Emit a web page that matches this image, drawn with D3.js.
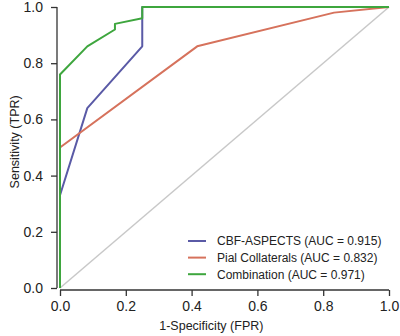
<!DOCTYPE html>
<html>
<head>
<meta charset="utf-8">
<script src="https://cdn.jsdelivr.net/npm/d3@7"></script>
<style>
  body { margin: 0; background: #fff; }
  svg { display: block; font-family: "Liberation Sans", Arial, sans-serif; }
</style>
</head>
<body>
<div id="container"></div>
<script>
let w = 400;
let h = 336;

// ROC data
let seriesNames = ['CBF-ASPECTS (AUC = 0.915)', 'Pial Collaterals (AUC = 0.832)', 'Combination (AUC = 0.971)'];
let seriesColors = ['#5a5aa6', '#d6725c', '#3ea63e'];

let cbfFpr = [0, 0, 0.083, 0.25, 0.25, 1];
let cbfTpr = [0, 0.33, 0.64, 0.86, 1, 1];

let pialFpr = [0, 0, 0.417, 0.833, 1];
let pialTpr = [0, 0.5, 0.86, 0.98, 1];

let combFpr = [0, 0, 0.083, 0.167, 0.167, 0.25, 0.25, 1];
let combTpr = [0, 0.76, 0.86, 0.92, 0.94, 0.96, 1, 1];

let ticks = [0, 0.2, 0.4, 0.6, 0.8, 1.0];

let series = [
  { fpr: cbfFpr, tpr: cbfTpr },
  { fpr: pialFpr, tpr: pialTpr },
  { fpr: combFpr, tpr: combTpr }
];

let viz = d3.select('#container')
  .append('svg')
  .attr('width', w)
  .attr('height', h);

let xScale = d3.scaleLinear().domain([0, 1]).range([60, 389]);
let yScale = d3.scaleLinear().domain([0, 1]).range([288, 7]);

// AXES (R style, detached)
let yAxis = d3.axisLeft(yScale).tickValues(ticks).tickFormat(d3.format('.1f')).tickSize(6).tickPadding(8);
let yAxisGroup = viz.append('g').attr('transform', 'translate(57,0)').call(yAxis);

let xAxis = d3.axisBottom(xScale).tickValues(ticks).tickFormat(d3.format('.1f')).tickSize(6).tickPadding(5);
let xAxisGroup = viz.append('g').attr('transform', 'translate(0,290)').call(xAxis);

[xAxisGroup, yAxisGroup].forEach(g => {
  g.select('.domain').remove();
  g.selectAll('line').attr('stroke', '#333').attr('stroke-width', 1.3);
  g.selectAll('text').attr('font-size', 14).attr('fill', '#222')
    .style('font-family', '"Liberation Sans", Arial, sans-serif');
});

// axis lines
viz.append('line')
  .attr('x1', 57).attr('x2', 57)
  .attr('y1', yScale(1)).attr('y2', yScale(0))
  .attr('stroke', '#333').attr('stroke-width', 1.3);
viz.append('line')
  .attr('x1', xScale(0)).attr('x2', xScale(1))
  .attr('y1', 290).attr('y2', 290)
  .attr('stroke', '#333').attr('stroke-width', 1.3);

// axis titles
viz.append('text')
  .attr('x', xScale(0.46)).attr('y', 330)
  .attr('text-anchor', 'middle')
  .attr('font-size', 12.5).attr('fill', '#222')
  .text('1-Specificity (FPR)');

viz.append('text')
  .attr('transform', `translate(19,${yScale(0.52)}) rotate(-90)`)
  .attr('text-anchor', 'middle')
  .attr('font-size', 12.5).attr('fill', '#222')
  .text('Sensitivity (TPR)');

// chance line
viz.append('line')
  .attr('x1', xScale(0)).attr('y1', yScale(0))
  .attr('x2', xScale(1)).attr('y2', yScale(1))
  .attr('stroke', '#c8c8c8').attr('stroke-width', 1.5);

// ROC curves
let line = d3.line().x(d => xScale(d[0])).y(d => yScale(d[1]));
series.forEach((s, i) => {
  let pts = s.fpr.map((f, j) => [f, s.tpr[j]]);
  viz.append('path')
    .attr('d', line(pts))
    .attr('fill', 'none')
    .attr('stroke', seriesColors[i])
    .attr('stroke-width', 2)
    .attr('stroke-linejoin', 'round');
});

// legend
let legend = viz.append('g').attr('transform', 'translate(188,241)');
seriesNames.forEach((name, i) => {
  let row = legend.append('g').attr('transform', `translate(0,${i * 16.6})`);
  row.append('line')
    .attr('x1', 0).attr('x2', 18)
    .attr('stroke', seriesColors[i]).attr('stroke-width', 2);
  row.append('text')
    .attr('x', 29).attr('y', 4.3)
    .attr('font-size', 12).attr('fill', '#222')
    .text(name);
});
</script>
</body>
</html>
